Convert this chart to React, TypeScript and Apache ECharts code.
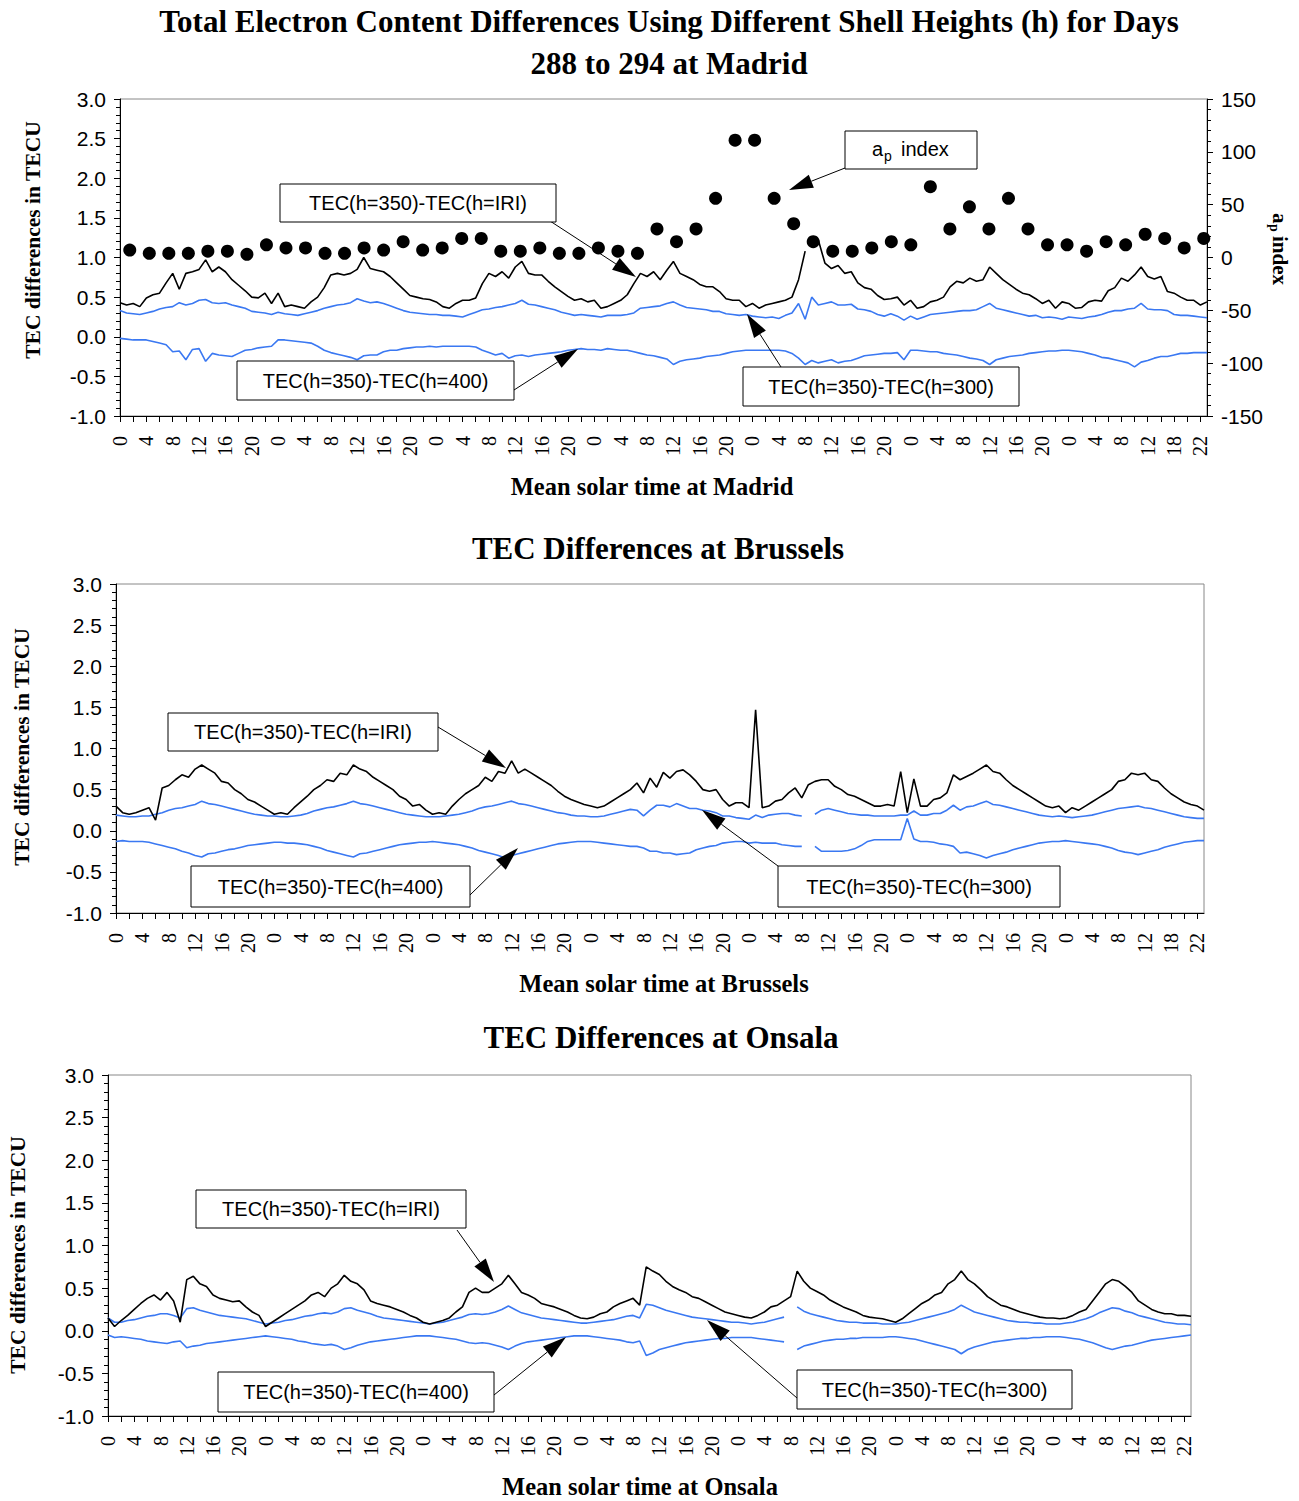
import React, { useEffect, useRef } from "react";
import * as echarts from "echarts";

// ---------- categories (mean solar time, hourly) ----------
const DAY_HOURS = [0,1,2,3,4,5,6,7,8,9,10,11,12,13,14,15,16,17,18,19,20,21,22,23];
const LAST_DAY_HOURS = [0,1,2,3,4,5,6,7,8,9,10,11,12,13,14,15,18,19,20,21,22,23];
const CATEGORIES: string[] = [];
for (let d = 0; d < 6; d++) DAY_HOURS.forEach((h) => CATEGORIES.push(String(h)));
LAST_DAY_HOURS.forEach((h) => CATEGORIES.push(String(h)));

// ---------- Madrid ----------
const MADRID_IRI = [
  0.43,0.40,0.42,0.38,0.49,0.53,0.55,0.68,0.80,0.60,0.80,0.82,0.85,0.97,0.82,0.88,0.82,0.72,0.65,0.58,0.50,0.49,0.55,0.42,
  0.55,0.38,0.40,0.38,0.36,0.44,0.50,0.62,0.78,0.80,0.78,0.80,0.85,1.00,0.86,0.84,0.82,0.76,0.68,0.60,0.52,0.50,0.48,0.47,
  0.44,0.38,0.36,0.42,0.46,0.46,0.49,0.67,0.80,0.76,0.82,0.74,0.88,0.95,0.80,0.78,0.78,0.70,0.63,0.57,0.51,0.46,0.48,0.44,
  0.46,0.36,0.38,0.42,0.46,0.53,0.67,0.80,0.76,0.82,0.72,0.84,0.95,0.80,0.76,0.72,0.66,0.63,0.63,0.57,0.48,0.46,0.46,0.38,
  0.42,0.36,0.40,0.42,0.44,0.46,0.50,0.72,1.08,null,1.22,0.93,0.86,0.90,0.80,0.82,0.68,0.62,0.60,0.52,0.47,0.48,0.50,0.40,
  0.46,0.36,0.38,0.44,0.46,0.50,0.63,0.70,0.68,0.74,0.70,0.72,0.88,0.80,0.72,0.66,0.60,0.55,0.53,0.48,0.42,0.46,0.36,0.44,
  0.42,0.36,0.37,0.44,0.46,0.45,0.58,0.62,0.74,0.70,0.78,0.88,0.76,0.73,0.76,0.57,0.55,0.50,0.46,0.46,0.40,0.44,
];
const MADRID_300 = [
  0.33,0.30,0.29,0.28,0.30,0.32,0.35,0.37,0.38,0.43,0.40,0.42,0.46,0.47,0.43,0.42,0.43,0.40,0.38,0.36,0.32,0.31,0.30,0.28,
  0.31,0.29,0.28,0.27,0.29,0.31,0.33,0.36,0.38,0.40,0.41,0.43,0.48,0.45,0.43,0.44,0.42,0.39,0.36,0.33,0.31,0.30,0.29,0.28,
  0.28,0.27,0.27,0.26,0.25,0.28,0.31,0.34,0.35,0.37,0.38,0.40,0.42,0.46,0.41,0.40,0.38,0.36,0.34,0.31,0.29,0.27,0.28,0.27,
  0.26,0.25,0.27,0.27,0.27,0.28,0.30,0.36,0.37,0.38,0.39,0.42,0.44,0.40,0.37,0.36,0.35,0.34,0.32,0.32,0.29,0.28,0.27,0.28,
  0.26,0.25,0.24,0.25,0.23,0.27,0.30,0.42,0.22,0.50,0.40,0.42,0.44,0.40,0.40,0.41,0.35,0.34,0.32,0.28,0.26,0.29,0.26,0.21,
  0.26,0.22,0.25,0.28,0.29,0.30,0.31,0.32,0.33,0.33,0.34,0.38,0.42,0.36,0.34,0.32,0.30,0.28,0.26,0.27,0.24,0.25,0.24,0.22,
  0.25,0.24,0.23,0.25,0.26,0.28,0.31,0.33,0.33,0.35,0.36,0.42,0.35,0.34,0.34,0.33,0.28,0.27,0.27,0.26,0.25,0.24,
];
const MADRID_400 = [
  -0.02,-0.03,-0.04,-0.04,-0.04,-0.06,-0.08,-0.10,-0.19,-0.18,-0.29,-0.16,-0.15,-0.31,-0.21,-0.23,-0.24,-0.25,-0.21,-0.17,-0.16,-0.14,-0.13,-0.12,
  -0.04,-0.04,-0.05,-0.06,-0.07,-0.08,-0.12,-0.17,-0.20,-0.22,-0.24,-0.26,-0.29,-0.24,-0.23,-0.23,-0.19,-0.17,-0.17,-0.15,-0.14,-0.13,-0.13,-0.12,
  -0.13,-0.12,-0.12,-0.12,-0.12,-0.12,-0.13,-0.17,-0.20,-0.23,-0.21,-0.27,-0.24,-0.23,-0.25,-0.23,-0.22,-0.21,-0.20,-0.19,-0.17,-0.16,-0.15,-0.16,
  -0.16,-0.17,-0.15,-0.16,-0.17,-0.17,-0.19,-0.21,-0.23,-0.24,-0.26,-0.28,-0.35,-0.31,-0.29,-0.28,-0.27,-0.25,-0.24,-0.23,-0.21,-0.19,-0.18,-0.17,
  -0.17,-0.17,-0.17,-0.17,-0.17,-0.18,-0.21,-0.27,-0.35,-0.30,-0.33,-0.31,-0.29,-0.33,-0.31,-0.30,-0.27,-0.24,-0.23,-0.22,-0.21,-0.21,-0.20,-0.29,
  -0.17,-0.17,-0.18,-0.19,-0.19,-0.21,-0.22,-0.23,-0.25,-0.27,-0.28,-0.30,-0.35,-0.29,-0.27,-0.25,-0.24,-0.23,-0.21,-0.20,-0.19,-0.18,-0.18,-0.17,
  -0.17,-0.18,-0.19,-0.21,-0.23,-0.26,-0.27,-0.29,-0.31,-0.33,-0.38,-0.32,-0.30,-0.27,-0.25,-0.25,-0.23,-0.21,-0.21,-0.20,-0.20,-0.20,
];
// 3-hourly ap index, days 288-294
const AP_INDEX = [
  7,4,4,4,6,6,3,12, 9,9,4,4,9,7,15,7, 9,18,18,6,6,9,4,4, 9,6,4,27,15,27,56,111,
  111,56,32,15,6,6,9,15, 12,67,27,48,27,56,27,12, 12,6,15,12,22,18,9,18,
];
const AP_HOURS = AP_INDEX.map((_, i) => 1.5 + 3 * i);

// ---------- Brussels ----------
const BRUSSELS_IRI = [
  0.30,0.22,0.20,0.22,0.25,0.28,0.13,0.52,0.55,0.62,0.68,0.65,0.75,0.80,0.75,0.70,0.60,0.58,0.50,0.45,0.38,0.35,0.30,0.25,
  0.20,0.22,0.20,0.28,0.35,0.42,0.50,0.55,0.62,0.60,0.70,0.68,0.80,0.75,0.72,0.65,0.60,0.55,0.50,0.42,0.38,0.30,0.32,0.25,
  0.20,0.22,0.20,0.30,0.38,0.45,0.50,0.55,0.65,0.60,0.72,0.70,0.85,0.70,0.75,0.70,0.65,0.60,0.55,0.48,0.42,0.38,0.35,0.32,
  0.30,0.28,0.30,0.35,0.40,0.45,0.50,0.58,0.46,0.64,0.53,0.71,0.64,0.72,0.74,0.68,0.60,0.50,0.48,0.50,0.38,0.30,0.34,0.34,
  0.28,1.47,0.28,0.30,0.36,0.38,0.46,0.52,0.40,0.56,0.60,0.62,0.62,0.54,0.50,0.44,0.42,0.38,0.34,0.30,0.30,0.32,0.30,0.72,
  0.22,0.63,0.30,0.30,0.38,0.40,0.46,0.68,0.62,0.66,0.70,0.75,0.80,0.72,0.70,0.62,0.55,0.50,0.45,0.40,0.35,0.30,0.28,0.30,
  0.22,0.28,0.25,0.30,0.35,0.40,0.45,0.50,0.60,0.62,0.70,0.68,0.70,0.62,0.60,0.52,0.45,0.40,0.35,0.32,0.30,0.25,
];
const BRUSSELS_300 = [
  0.19,0.18,0.17,0.17,0.18,0.18,0.20,0.22,0.25,0.27,0.28,0.30,0.32,0.36,0.33,0.32,0.30,0.28,0.26,0.24,0.22,0.20,0.19,0.18,
  0.18,0.17,0.17,0.18,0.19,0.21,0.24,0.26,0.28,0.29,0.31,0.33,0.36,0.33,0.32,0.30,0.28,0.26,0.24,0.22,0.20,0.19,0.18,0.17,
  0.17,0.17,0.18,0.19,0.20,0.22,0.24,0.27,0.29,0.30,0.32,0.34,0.36,0.33,0.32,0.30,0.28,0.26,0.24,0.22,0.21,0.19,0.18,0.18,
  0.17,0.17,0.18,0.20,0.22,0.24,0.26,0.25,0.18,0.25,0.31,0.31,0.29,0.33,0.30,0.27,0.27,0.25,0.24,0.22,0.18,0.18,0.16,0.15,
  0.14,0.19,0.16,0.19,0.20,0.21,0.21,0.19,0.18,null,0.20,0.25,0.27,0.25,0.23,0.21,0.20,0.19,0.19,0.18,0.18,0.18,0.18,0.19,
  0.19,0.24,0.19,0.19,0.21,0.21,0.25,0.31,0.25,0.29,0.30,0.33,0.36,0.32,0.31,0.29,0.27,0.25,0.23,0.21,0.19,0.18,0.17,0.18,
  0.17,0.16,0.17,0.18,0.19,0.21,0.23,0.25,0.27,0.28,0.29,0.30,0.28,0.27,0.25,0.23,0.21,0.19,0.17,0.16,0.15,0.15,
];
const BRUSSELS_400 = [
  -0.13,-0.12,-0.13,-0.13,-0.13,-0.14,-0.16,-0.18,-0.20,-0.22,-0.25,-0.27,-0.30,-0.32,-0.28,-0.27,-0.25,-0.23,-0.22,-0.20,-0.18,-0.17,-0.16,-0.15,
  -0.14,-0.14,-0.15,-0.15,-0.16,-0.17,-0.19,-0.21,-0.24,-0.26,-0.28,-0.30,-0.32,-0.28,-0.27,-0.25,-0.23,-0.21,-0.19,-0.17,-0.16,-0.15,-0.14,-0.14,
  -0.13,-0.14,-0.15,-0.16,-0.17,-0.19,-0.21,-0.24,-0.26,-0.28,-0.30,-0.33,-0.30,-0.28,-0.26,-0.24,-0.22,-0.20,-0.18,-0.16,-0.15,-0.14,-0.13,-0.13,
  -0.13,-0.14,-0.15,-0.16,-0.17,-0.18,-0.19,-0.19,-0.21,-0.25,-0.25,-0.27,-0.27,-0.29,-0.28,-0.27,-0.23,-0.21,-0.19,-0.18,-0.15,-0.14,-0.13,-0.13,
  -0.15,-0.14,-0.15,-0.15,-0.15,-0.17,-0.18,-0.19,-0.19,null,-0.19,-0.25,-0.25,-0.25,-0.25,-0.24,-0.22,-0.18,-0.13,-0.11,-0.11,-0.11,-0.11,-0.11,
  0.15,-0.10,-0.13,-0.13,-0.14,-0.16,-0.17,-0.19,-0.27,-0.26,-0.28,-0.30,-0.33,-0.30,-0.28,-0.26,-0.23,-0.21,-0.19,-0.17,-0.15,-0.14,-0.13,-0.13,
  -0.12,-0.13,-0.14,-0.15,-0.16,-0.17,-0.19,-0.21,-0.24,-0.26,-0.27,-0.29,-0.27,-0.25,-0.23,-0.20,-0.18,-0.16,-0.14,-0.13,-0.12,-0.12,
];

// ---------- Onsala ----------
const ONSALA_IRI = [
  0.15,0.05,0.12,0.18,0.25,0.32,0.38,0.42,0.36,0.45,0.35,0.10,0.60,0.64,0.55,0.52,0.42,0.38,0.36,0.34,0.35,0.28,0.22,0.18,
  0.05,0.10,0.15,0.20,0.25,0.30,0.35,0.42,0.45,0.40,0.50,0.55,0.65,0.58,0.55,0.48,0.35,0.32,0.30,0.28,0.25,0.22,0.18,0.15,
  0.10,0.08,0.10,0.12,0.15,0.22,0.28,0.45,0.50,0.45,0.45,0.50,0.55,0.65,0.55,0.45,0.42,0.38,0.32,0.30,0.28,0.25,0.22,0.18,
  0.15,0.14,0.16,0.20,0.22,0.28,0.32,0.35,0.38,0.30,0.75,0.70,0.66,0.58,0.52,0.48,0.45,0.40,0.38,0.34,0.30,0.26,0.22,0.20,
  0.18,0.16,0.15,0.18,0.22,0.28,0.30,0.35,0.40,0.70,0.58,0.50,0.46,0.42,0.36,0.32,0.28,0.25,0.22,0.18,0.16,0.15,0.14,0.12,
  0.10,0.14,0.20,0.26,0.32,0.36,0.42,0.45,0.55,0.60,0.70,0.60,0.55,0.48,0.40,0.35,0.30,0.28,0.25,0.22,0.20,0.18,0.16,0.15,
  0.15,0.14,0.15,0.18,0.22,0.25,0.35,0.45,0.55,0.60,0.58,0.52,0.45,0.35,0.30,0.25,0.22,0.20,0.20,0.18,0.18,0.17,
];
const ONSALA_300 = [
  0.15,0.10,0.10,0.12,0.13,0.15,0.17,0.18,0.20,0.20,0.18,0.15,0.26,0.27,0.24,0.22,0.20,0.18,0.17,0.16,0.15,0.14,0.12,0.10,
  0.08,0.09,0.10,0.12,0.13,0.15,0.17,0.18,0.20,0.21,0.20,0.22,0.26,0.27,0.24,0.22,0.20,0.17,0.15,0.14,0.13,0.12,0.11,0.10,
  0.09,0.08,0.09,0.10,0.12,0.14,0.16,0.19,0.20,0.19,0.20,0.22,0.25,0.29,0.25,0.21,0.19,0.17,0.15,0.14,0.13,0.12,0.11,0.10,
  0.09,0.09,0.10,0.11,0.12,0.13,0.15,0.17,0.18,0.15,0.31,0.30,0.27,0.24,0.22,0.20,0.18,0.16,0.15,0.14,0.13,0.12,0.11,0.10,
  0.10,0.09,0.08,0.09,0.10,0.12,0.14,0.16,null,0.28,0.23,0.20,0.18,0.16,0.14,0.12,0.11,0.10,0.10,0.09,0.09,0.09,0.08,0.08,
  0.08,0.09,0.10,0.12,0.14,0.16,0.18,0.20,0.22,0.25,0.30,0.26,0.22,0.20,0.18,0.16,0.14,0.12,0.11,0.10,0.10,0.09,0.09,0.08,
  0.08,0.08,0.09,0.10,0.12,0.14,0.17,0.21,0.24,0.27,0.26,0.23,0.21,0.18,0.16,0.14,0.12,0.10,0.09,0.08,0.08,0.07,
];
const ONSALA_400 = [
  -0.05,-0.08,-0.07,-0.08,-0.09,-0.10,-0.12,-0.13,-0.14,-0.15,-0.13,-0.12,-0.20,-0.18,-0.17,-0.15,-0.14,-0.13,-0.12,-0.11,-0.10,-0.09,-0.08,-0.07,
  -0.06,-0.07,-0.08,-0.09,-0.10,-0.12,-0.13,-0.15,-0.16,-0.17,-0.16,-0.18,-0.22,-0.20,-0.17,-0.15,-0.13,-0.12,-0.11,-0.10,-0.09,-0.08,-0.07,-0.06,
  -0.06,-0.06,-0.07,-0.08,-0.09,-0.10,-0.12,-0.14,-0.15,-0.14,-0.15,-0.17,-0.19,-0.22,-0.18,-0.15,-0.13,-0.12,-0.11,-0.10,-0.09,-0.08,-0.07,-0.06,
  -0.06,-0.06,-0.07,-0.08,-0.09,-0.10,-0.11,-0.13,-0.14,-0.12,-0.29,-0.26,-0.22,-0.20,-0.18,-0.16,-0.14,-0.13,-0.12,-0.11,-0.10,-0.09,-0.09,-0.08,
  -0.08,-0.08,-0.08,-0.09,-0.10,-0.11,-0.12,-0.13,null,-0.22,-0.18,-0.16,-0.14,-0.12,-0.11,-0.10,-0.10,-0.09,-0.09,-0.08,-0.08,-0.08,-0.08,-0.07,
  -0.07,-0.08,-0.09,-0.10,-0.12,-0.14,-0.16,-0.18,-0.20,-0.22,-0.27,-0.22,-0.19,-0.17,-0.15,-0.13,-0.12,-0.11,-0.10,-0.09,-0.09,-0.08,-0.08,-0.07,
  -0.07,-0.07,-0.08,-0.09,-0.10,-0.12,-0.14,-0.17,-0.20,-0.22,-0.20,-0.18,-0.17,-0.15,-0.13,-0.11,-0.10,-0.09,-0.08,-0.07,-0.06,-0.05,
];

const LABEL_IRI = "TEC(h=350)-TEC(h=IRI)";
const LABEL_400 = "TEC(h=350)-TEC(h=400)";
const LABEL_300 = "TEC(h=350)-TEC(h=300)";

const BLUE = "#3a78f2";
const SANS = '"Liberation Sans", Arial, sans-serif';
const SERIF = '"Liberation Serif", "Times New Roman", serif';

function xCat(gridIndex: number) {
  return {
    type: "category",
    gridIndex,
    data: CATEGORIES,
    boundaryGap: false,
    axisLine: { show: true, onZero: false, lineStyle: { color: "#000", width: 1 } },
    axisTick: { show: true, interval: 1, length: 6, lineStyle: { color: "#000" } },
    axisLabel: { interval: 3, rotate: 90, fontFamily: SERIF, fontSize: 20, color: "#000", margin: 20 },
    splitLine: { show: false },
  };
}
function yLeft(gridIndex: number) {
  return {
    type: "value",
    gridIndex,
    min: -1,
    max: 3,
    interval: 0.5,
    axisLine: { show: true, lineStyle: { color: "#000", width: 1 } },
    axisTick: { show: true, length: 6, lineStyle: { color: "#000" } },
    minorTick: { show: true, splitNumber: 5, length: 4, lineStyle: { color: "#000" } },
    splitLine: { show: false },
    axisLabel: { formatter: (v: number) => v.toFixed(1), fontFamily: SANS, fontSize: 21, color: "#000", margin: 14 },
  };
}
function lineSeries(name: string, data: (number | null)[], xi: number, yi: number, color: string) {
  return {
    type: "line",
    name,
    data,
    xAxisIndex: xi,
    yAxisIndex: yi,
    symbol: "none",
    connectNulls: false,
    lineStyle: { color, width: 1.6 },
    z: 3,
  };
}
function box(x: number, y: number, w: number, h: number, text: string) {
  return [
    { type: "rect", z: 100, shape: { x, y, width: w, height: h }, style: { fill: "#fff", stroke: "#000", lineWidth: 1 } },
    {
      type: "text", z: 101, x: x + w / 2, y: y + h / 2,
      style: { text, fill: "#000", font: `20px ${SANS}`, textAlign: "center", textVerticalAlign: "middle", align: "center", verticalAlign: "middle" },
    },
  ];
}
function arrow(x1: number, y1: number, x2: number, y2: number) {
  const dx = x2 - x1, dy = y2 - y1;
  const len = Math.hypot(dx, dy);
  const ux = dx / len, uy = dy / len;
  const hl = 24, hw = 7;
  const bx = x2 - ux * hl, by = y2 - uy * hl;
  return [
    { type: "line", z: 100, shape: { x1, y1, x2: bx, y2: by }, style: { stroke: "#000", lineWidth: 1 } },
    {
      type: "polygon", z: 100,
      shape: { points: [[x2, y2], [bx - uy * hw, by + ux * hw], [bx + uy * hw, by - ux * hw]] },
      style: { fill: "#000" },
    },
  ];
}
function centerText(x: number, y: number, text: string, font: string, rotation = 0) {
  return {
    type: "text", z: 100, x, y, rotation,
    style: { text, fill: "#000", font, textAlign: "center", textVerticalAlign: "middle", align: "center", verticalAlign: "middle" },
  };
}

export default function App() {
  const ref = useRef<HTMLDivElement>(null);
  useEffect(() => {
    if (!ref.current) return;
    const chart = echarts.init(ref.current, undefined, { renderer: "svg" });
    const titleFont = `bold 31px ${SERIF}`;
    const subTitleFont = `bold 31px ${SERIF}`;
    const axisTitleFont = `bold 24.5px ${SERIF}`;
    const yTitleFont = `bold 21.5px ${SERIF}`;

    const graphics: any[] = [
      centerText(669, 21, "Total Electron Content Differences Using Different Shell Heights (h) for Days", titleFont),
      centerText(669, 63, "288 to 294 at Madrid", titleFont),
      centerText(652, 486, "Mean solar time at Madrid", axisTitleFont),
      centerText(33, 240, "TEC differences in TECU", yTitleFont, Math.PI / 2),
      {
        type: "group", x: 1280, y: 251, rotation: -Math.PI / 2, z: 100,
        children: [
          { type: "text", x: -38, y: 0, style: { text: "a", font: `bold 21px ${SERIF}`, fill: "#000", textAlign: "left", textVerticalAlign: "middle", align: "left", verticalAlign: "middle" } },
          { type: "text", x: -27, y: 6, style: { text: "p", font: `bold 14px ${SERIF}`, fill: "#000", textAlign: "left", textVerticalAlign: "middle", align: "left", verticalAlign: "middle" } },
          { type: "text", x: -15, y: 0, style: { text: "index", font: `bold 21px ${SERIF}`, fill: "#000", textAlign: "left", textVerticalAlign: "middle", align: "left", verticalAlign: "middle" } },
        ],
      },
      centerText(658, 548, "TEC Differences at Brussels", subTitleFont),
      centerText(664, 983, "Mean solar time at Brussels", axisTitleFont),
      centerText(22, 747, "TEC differences in TECU", yTitleFont, Math.PI / 2),
      centerText(661, 1037, "TEC Differences at Onsala", subTitleFont),
      centerText(640, 1486, "Mean solar time at Onsala", axisTitleFont),
      centerText(18, 1255, "TEC differences in TECU", yTitleFont, Math.PI / 2),

      // Madrid annotations
      ...arrow(550, 221, 636, 277),
      ...box(280, 184, 276, 38, LABEL_IRI),
      ...arrow(845, 168, 789, 190),
      { type: "rect", z: 100, shape: { x: 845, y: 131, width: 132, height: 38 }, style: { fill: "#fff", stroke: "#000", lineWidth: 1 } },
      { type: "text", z: 101, x: 872, y: 149, style: { text: "a", font: `20px ${SANS}`, fill: "#000", textAlign: "left", textVerticalAlign: "middle", align: "left", verticalAlign: "middle" } },
      { type: "text", z: 101, x: 884, y: 156, style: { text: "p", font: `14px ${SANS}`, fill: "#000", textAlign: "left", textVerticalAlign: "middle", align: "left", verticalAlign: "middle" } },
      { type: "text", z: 101, x: 901, y: 149, style: { text: "index", font: `20px ${SANS}`, fill: "#000", textAlign: "left", textVerticalAlign: "middle", align: "left", verticalAlign: "middle" } },
      ...arrow(514, 390, 578, 349),
      ...box(237, 361, 277, 39, LABEL_400),
      ...arrow(781, 367, 747, 314),
      ...box(743, 367, 276, 39, LABEL_300),

      // Brussels annotations
      ...arrow(438, 727, 506, 768),
      ...box(168, 713, 270, 38, LABEL_IRI),
      ...arrow(470, 895, 518, 848),
      ...box(191, 866, 279, 41, LABEL_400),
      ...arrow(778, 866, 702, 810),
      ...box(778, 866, 282, 41, LABEL_300),

      // Onsala annotations
      ...arrow(457, 1230, 494, 1282),
      ...box(196, 1190, 270, 38, LABEL_IRI),
      ...arrow(494, 1395, 566, 1337),
      ...box(218, 1372, 276, 40, LABEL_400),
      ...arrow(797, 1398, 707, 1320),
      ...box(797, 1370, 275, 39, LABEL_300),
    ];

    chart.setOption({
      animation: false,
      backgroundColor: "#fff",
      grid: [
        { left: 120, right: 92, top: 99, height: 317, show: true, borderColor: "#888", borderWidth: 1, backgroundColor: "transparent" },
        { left: 116, right: 95, top: 584, height: 329, show: true, borderColor: "#888", borderWidth: 1, backgroundColor: "transparent" },
        { left: 108, right: 108, top: 1075, height: 341, show: true, borderColor: "#888", borderWidth: 1, backgroundColor: "transparent" },
      ],
      xAxis: [
        xCat(0),
        { type: "value", gridIndex: 0, min: 0, max: 167, show: false },
        xCat(1),
        xCat(2),
      ],
      yAxis: [
        yLeft(0),
        {
          type: "value", gridIndex: 0, position: "right", min: -150, max: 150, interval: 50,
          axisLine: { show: true, lineStyle: { color: "#000", width: 1 } },
          axisTick: { show: true, length: 6, lineStyle: { color: "#000" } },
          minorTick: { show: true, splitNumber: 5, length: 4, lineStyle: { color: "#000" } },
          splitLine: { show: false },
          axisLabel: { fontFamily: SANS, fontSize: 21, color: "#000", margin: 14 },
        },
        yLeft(1),
        yLeft(2),
      ],
      series: [
        lineSeries("M400", MADRID_400, 0, 0, BLUE),
        lineSeries("M300", MADRID_300, 0, 0, BLUE),
        lineSeries("MIRI", MADRID_IRI, 0, 0, "#000"),
        {
          type: "scatter", name: "ap", xAxisIndex: 1, yAxisIndex: 1,
          data: AP_INDEX.map((v, i) => [AP_HOURS[i], v]),
          symbol: "circle", symbolSize: 13, itemStyle: { color: "#000", opacity: 1 }, z: 4,
        },
        lineSeries("B400", BRUSSELS_400, 2, 2, BLUE),
        lineSeries("B300", BRUSSELS_300, 2, 2, BLUE),
        lineSeries("BIRI", BRUSSELS_IRI, 2, 2, "#000"),
        lineSeries("O400", ONSALA_400, 3, 3, BLUE),
        lineSeries("O300", ONSALA_300, 3, 3, BLUE),
        lineSeries("OIRI", ONSALA_IRI, 3, 3, "#000"),
      ],
      graphic: { elements: graphics },
    });
    return () => chart.dispose();
  }, []);
  return <div ref={ref} style={{ position: "absolute", left: 0, top: 0, width: 1299, height: 1501 }} />;
}
